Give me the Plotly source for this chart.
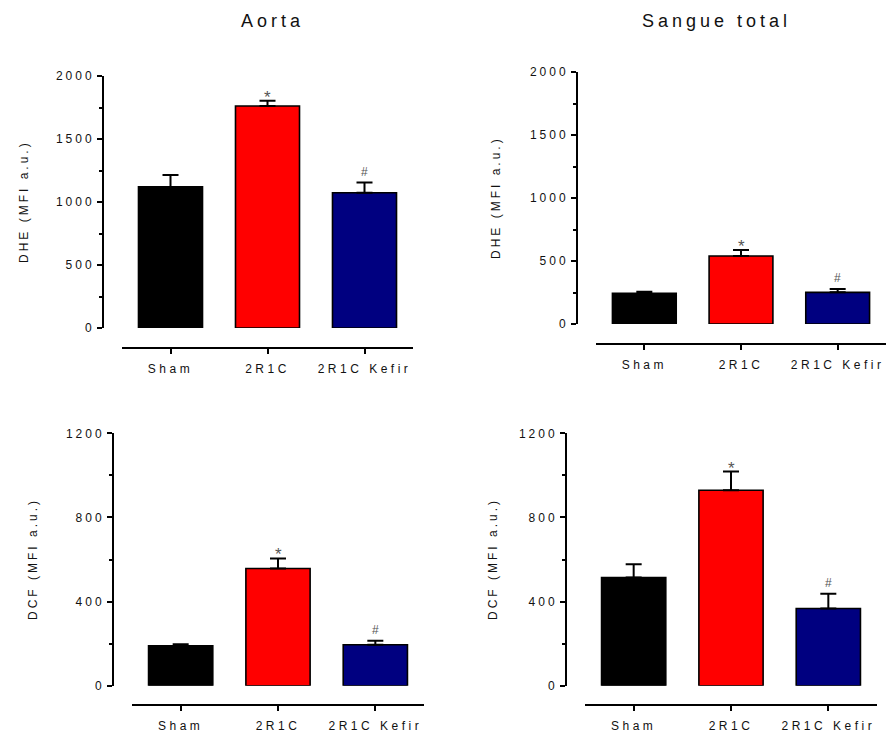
import plotly.graph_objects as go

W, H = 887, 734

categories = ["Sham", "2R1C", "2R1C Kefir"]
bar_colors = ["#000000", "#FF0000", "#000080"]

# Panel values (mean, SEM)
aorta_dhe_mean = [1120, 1762, 1074]
aorta_dhe_sem = [95, 42, 80]
sangue_dhe_mean = [243, 540, 251]
sangue_dhe_sem = [13, 47, 27]
aorta_dcf_mean = [190, 557, 195]
aorta_dcf_sem = [7, 48, 19]
sangue_dcf_mean = [514, 929, 367]
sangue_dcf_sem = [64, 89, 70]

# significance marks per category
marks = ["", "*", "#"]

dhe_ticks = [0, 500, 1000, 1500, 2000]
dhe_minor = [250, 750, 1250, 1750]
dcf_ticks = [0, 400, 800, 1200]
dcf_minor = [200, 600, 1000]

titles = ["Aorta", "Sangue total"]
ytitles = ["DHE (MFI a.u.)", "DHE (MFI a.u.)", "DCF (MFI a.u.)", "DCF (MFI a.u.)"]

FONT = "Liberation Sans, Arial, sans-serif"
MARK_STYLE = {"*": dict(size=17, yshift=-8), "#": dict(size=12, yshift=2)}


def sp(t, ls=3.5):
    return '<span style="letter-spacing:%spx">%s</span>' % (ls, t)


def px(x):
    return x / W


def py(y):
    return 1 - y / H


# pixel layout per panel: x-domain, y-axis x, y-domain (top,bottom), x-axis line y
panels = [
    dict(xd=(122, 413), yx=103, yd=(76, 328), xy=348, mean=aorta_dhe_mean, sem=aorta_dhe_sem,
         ticks=dhe_ticks, minor=dhe_minor, rng=2000),
    dict(xd=(596, 886), yx=577, yd=(72, 324), xy=344, mean=sangue_dhe_mean, sem=sangue_dhe_sem,
         ticks=dhe_ticks, minor=dhe_minor, rng=2000),
    dict(xd=(132, 424), yx=113, yd=(433.3, 685.7), xy=705, mean=aorta_dcf_mean, sem=aorta_dcf_sem,
         ticks=dcf_ticks, minor=dcf_minor, rng=1200),
    dict(xd=(585, 877), yx=566, yd=(433.3, 685.7), xy=705, mean=sangue_dcf_mean, sem=sangue_dcf_sem,
         ticks=dcf_ticks, minor=dcf_minor, rng=1200),
]
ytitle_pos = [(24, 202), (496, 198), (33, 559), (493, 559)]
title_pos = [(272, 21), (716, 21)]

fig = go.Figure()
annotations = []
layout = {}

for i, p in enumerate(panels):
    n = "" if i == 0 else str(i + 1)
    fig.add_trace(go.Bar(
        x=categories, y=p["mean"],
        xaxis="x" + n, yaxis="y" + n,
        width=0.66,
        marker=dict(color=bar_colors, line=dict(color="black", width=1.6)),
        error_y=dict(type="data", symmetric=False, array=p["sem"],
                     arrayminus=[0, 0, 0], color="black", thickness=2, width=8),
        showlegend=False, hoverinfo="skip",
    ))
    layout["xaxis" + n] = dict(
        domain=[px(p["xd"][0]), px(p["xd"][1])], anchor="free", position=py(p["xy"]),
        range=[-0.5, 2.5], type="category", automargin=False,
        tickmode="array", tickvals=categories, ticktext=[sp(c) for c in categories],
        showline=True, linecolor="black", linewidth=2,
        ticks="outside", ticklen=5, tickwidth=2, tickcolor="black",
        ticklabelstandoff=5,
        showgrid=False, zeroline=False,
        tickfont=dict(family=FONT, size=12, color="#111"),
        fixedrange=True,
    )
    layout["yaxis" + n] = dict(
        domain=[py(p["yd"][1]), py(p["yd"][0])], anchor="free", position=px(p["yx"]),
        range=[0, p["rng"]], automargin=False,
        tickmode="array", tickvals=p["ticks"], ticktext=[sp(str(t), 3) for t in p["ticks"]],
        showline=True, linecolor="black", linewidth=2,
        ticks="outside", ticklen=5, tickwidth=1.5, tickcolor="black",
        minor=dict(tickmode="array", tickvals=p["minor"], ticks="outside", ticklen=3,
                   tickwidth=1.5, tickcolor="black", showgrid=False),
        showgrid=False, zeroline=False,
        tickfont=dict(family=FONT, size=12, color="#111"),
        fixedrange=True,
    )
    for j, m in enumerate(marks):
        if m:
            annotations.append(dict(
                x=categories[j], y=p["mean"][j] + p["sem"][j],
                xref="x" + n, yref="y" + n, text=m, showarrow=False,
                yanchor="bottom", yshift=MARK_STYLE[m]["yshift"],
                font=dict(family=FONT, size=MARK_STYLE[m]["size"], color="#555"),
            ))
    tx, ty = ytitle_pos[i]
    annotations.append(dict(
        x=px(tx), y=py(ty), xref="paper", yref="paper", text=sp(ytitles[i], 3),
        textangle=-90, showarrow=False, xanchor="center", yanchor="middle",
        font=dict(family=FONT, size=12, color="#111"),
    ))

for k, t in enumerate(titles):
    tx, ty = title_pos[k]
    annotations.append(dict(
        x=px(tx), y=py(ty), xref="paper", yref="paper", text=sp(t, 4),
        showarrow=False, xanchor="center", yanchor="middle",
        font=dict(family=FONT, size=18, color="#111"),
    ))

fig.update_layout(
    autosize=True,
    margin=dict(l=0, r=0, t=0, b=0, pad=0, autoexpand=False),
    paper_bgcolor="white", plot_bgcolor="white",
    annotations=annotations,
    **layout,
)

# pin the figure to the window's top-left corner (no page margin)
pin = ("document.body.style.margin='0';"
       "var gd=document.getElementById('{plot_id}');"
       "gd.style.position='fixed';gd.style.left='0px';gd.style.top='0px';")

fig.write_html("out.html", default_width="100vw", default_height="100vh",
               config={"displayModeBar": False}, post_script=pin)
